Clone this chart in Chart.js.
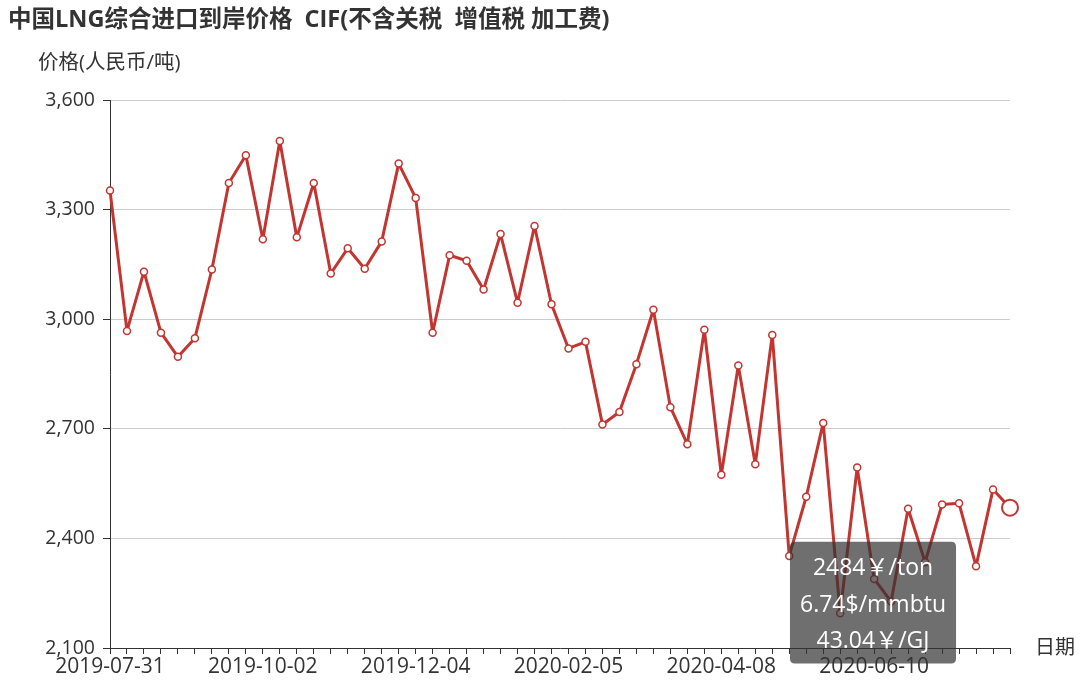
<!DOCTYPE html>
<html>
<head>
<meta charset="utf-8">
<script src="https://cdn.jsdelivr.net/npm/chart.js@4.4.1/dist/chart.umd.min.js"></script>
<style>
  html, body { margin: 0; padding: 0; background: #ffffff; }
  #wrap { width: 1080px; height: 682px; position: relative; }
</style>
</head>
<body>
<div id="wrap"><canvas id="c" width="1080" height="682"></canvas></div>
<script>
const titleText = '中国LNG综合进口到岸价格  CIF(不含关税  增值税 加工费)';
const yAxisName = '价格(人民币/吨)';
const xAxisName = '日期';

const dates = [
  '2019-07-31','2019-08-07','2019-08-14','2019-08-21','2019-08-28','2019-09-04','2019-09-11','2019-09-18','2019-09-25',
  '2019-10-02','2019-10-09','2019-10-16','2019-10-23','2019-10-30','2019-11-06','2019-11-13','2019-11-20','2019-11-27',
  '2019-12-04','2019-12-11','2019-12-18','2019-12-25','2020-01-01','2020-01-08','2020-01-15','2020-01-22','2020-01-29',
  '2020-02-05','2020-02-12','2020-02-19','2020-02-26','2020-03-04','2020-03-11','2020-03-18','2020-03-25','2020-04-01',
  '2020-04-08','2020-04-15','2020-04-22','2020-04-29','2020-05-06','2020-05-13','2020-05-20','2020-05-27','2020-06-03',
  '2020-06-10','2020-06-17','2020-06-24','2020-07-01','2020-07-08','2020-07-15','2020-07-22','2020-07-29','2020-08-05'
];

const prices = [
  3352, 2968, 3130, 2963, 2897, 2948, 3136, 3373, 3449,
  3219, 3488, 3224, 3373, 3125, 3194, 3138, 3213, 3426,
  3332, 2963, 3175, 3160, 3081, 3233, 3045, 3255, 3041,
  2920, 2938, 2712, 2746, 2877, 3026, 2759, 2658, 2971,
  2574, 2873, 2603, 2957, 2352, 2514, 2716, 2195, 2594,
  2289, 2227, 2481, 2335, 2493, 2496, 2324, 2534, 2484
];

const yTicks = [2100, 2400, 2700, 3000, 3300, 3600];
const tooltipLines = ['2484￥/ton', '6.74$/mmbtu', '43.04￥/GJ'];

const FONT = "'Open Sans', 'Noto Sans CJK SC', sans-serif";
const RED = '#c23531';
const TEXT = '#333333';
const activeIndex = prices.length - 1;

Chart.Tooltip.positioners.fixedBox = function (items) {
  if (!items.length) return false;
  const el = items[0].element;
  return { x: el.x - 137, y: el.y + 34, xAlign: 'center', yAlign: 'top' };
};

const textPlugin = {
  id: 'texts',
  afterDraw(chart) {
    const ctx = chart.ctx;
    const ca = chart.chartArea;
    ctx.save();
    ctx.textBaseline = 'middle';
    ctx.textAlign = 'left';
    ctx.fillStyle = '#333333';
    ctx.font = "bold 23.5px " + FONT;
    ctx.fillText(titleText, 8, 20);
    ctx.fillStyle = TEXT;
    ctx.font = "20.5px " + FONT;
    ctx.fillText(yAxisName, 38, 63);
    ctx.font = "20px " + FONT;
    ctx.fillText(xAxisName, ca.right + 25, ca.bottom);
    ctx.restore();
  }
};

const chart = new Chart(document.getElementById('c'), {
  type: 'line',
  data: {
    labels: dates,
    datasets: [{
      data: prices,
      borderColor: RED,
      borderWidth: 3,
      borderJoinStyle: 'round',
      backgroundColor: '#ffffff',
      pointBackgroundColor: '#ffffff',
      pointBorderColor: RED,
      pointBorderWidth: ctx => ctx.dataIndex === activeIndex ? 2 : 1.5,
      pointRadius: ctx => ctx.dataIndex === activeIndex ? 8 : 3.5,
      pointHoverRadius: ctx => ctx.dataIndex === activeIndex ? 8 : 3.5,
      pointHoverBorderWidth: ctx => ctx.dataIndex === activeIndex ? 2 : 1.5,
      pointHoverBackgroundColor: '#ffffff',
      pointHoverBorderColor: RED,
      tension: 0,
      fill: false
    }]
  },
  options: {
    responsive: false,
    animation: false,
    events: [],
    layout: { padding: { top: 100, right: 70, bottom: 0, left: 0 } },
    plugins: {
      legend: { display: false },
      title: { display: false },
      tooltip: {
        enabled: true,
        position: 'fixedBox',
        xAlign: 'center',
        yAlign: 'top',
        caretSize: 0,
        caretPadding: 0,
        backgroundColor: 'rgba(50,50,50,0.7)',
        cornerRadius: 5,
        displayColors: false,
        padding: { top: 13, bottom: 8, left: 10, right: 10 },
        bodyFont: { family: FONT, size: 23, lineHeight: 1.2 },
        bodyColor: '#ffffff',
        bodyAlign: 'center',
        bodySpacing: 9,
        callbacks: {
          title: () => [],
          label: () => tooltipLines
        }
      }
    },
    scales: {
      x: {
        type: 'category',
        offset: false,
        afterFit: s => { s.height = 34; },
        border: { display: true, color: '#333333', width: 1 },
        grid: { drawOnChartArea: false, drawTicks: true, tickLength: 6, tickColor: '#333333', offset: false },
        ticks: {
          autoSkip: false,
          maxRotation: 0,
          minRotation: 0,
          padding: 0,
          color: TEXT,
          font: { family: FONT, size: 21 },
          callback: function (value, index) { return index % 9 === 0 ? dates[index] : ''; }
        }
      },
      y: {
        min: yTicks[0],
        max: yTicks[yTicks.length - 1],
        afterFit: s => { s.width = 110; },
        afterBuildTicks: s => { s.ticks = yTicks.map(v => ({ value: v })); },
        border: { display: true, color: '#333333', width: 1 },
        grid: { color: '#cccccc', lineWidth: 1, drawTicks: true, tickLength: 7, tickColor: '#333333' },
        ticks: {
          padding: 8,
          color: TEXT,
          font: { family: FONT, size: 19.5 },
          callback: v => v.toLocaleString('en-US')
        }
      }
    }
  },
  plugins: [textPlugin]
});

chart.tooltip.setActiveElements([{ datasetIndex: 0, index: activeIndex }], { x: 0, y: 0 });
chart.update();
</script>
</body>
</html>
